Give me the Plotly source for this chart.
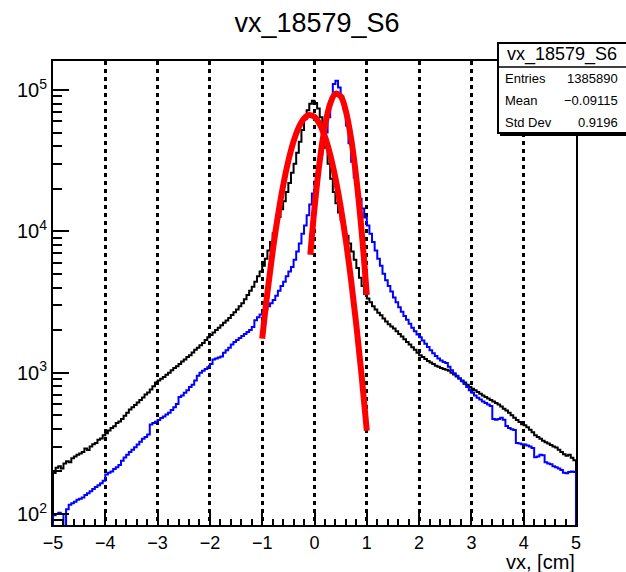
import numpy as np
import plotly.graph_objects as go

# ---------------- data ----------------
hist_title = "vx_18579_S6"
x_min, x_max, n_bins = -5.0, 5.0, 200

black_counts = [
    195, 212, 218, 210, 228, 236, 232, 248, 255, 262,
    268, 275, 290, 284, 300, 312, 318, 335, 342, 360,
    372, 390, 405, 418, 440, 452, 470, 495, 520, 548,
    570, 590, 615, 640, 668, 700, 725, 760, 800, 850,
    880, 905, 930, 965, 1000, 1040, 1080, 1110, 1150, 1200,
    1240, 1290, 1330, 1390, 1450, 1500, 1560, 1620, 1700, 1780,
    1850, 1920, 2000, 2080, 2160, 2250, 2340, 2440, 2560, 2680,
    2800, 2950, 3100, 3300, 3550, 3800, 4050, 4400, 4800, 5200,
    5700, 6400, 7300, 8400, 9700, 11000, 12600, 14300, 16300, 19000,
    22000, 26000, 30000, 36000, 43000, 52000, 62000, 72000, 80000, 84000,
    81000, 74000, 64000, 51000, 39000, 30000, 23500, 19000, 15800, 13600,
    12000, 10600, 9300, 8200, 7200, 6300, 5500, 4700, 4100, 3600,
    3350, 3150, 2950, 2800, 2650, 2550, 2420, 2300, 2200, 2120,
    2050, 1960, 1880, 1800, 1720, 1650, 1580, 1510, 1450, 1380,
    1330, 1290, 1250, 1210, 1180, 1150, 1120, 1100, 1080, 1060,
    1050, 1030, 1000, 970, 940, 910, 880, 850, 820, 790,
    770, 750, 730, 710, 690, 672, 655, 640, 625, 610,
    595, 575, 555, 540, 520, 500, 480, 462, 448, 432,
    425, 410, 395, 378, 360, 350, 340, 330, 322, 315,
    308, 300, 295, 285, 275, 265, 258, 262, 250, 240,
]

blue_counts = [
    98, 100, 102, 100, 78, 108, 116, 119, 122, 126,
    128, 131, 136, 140, 145, 150, 155, 160, 165, 172,
    190, 196, 200, 208, 214, 222, 238, 251, 262, 275,
    285, 297, 310, 325, 340, 350, 365, 430, 440, 450,
    462, 478, 490, 505, 520, 543, 570, 600, 672, 690,
    720, 750, 790, 820, 880, 950, 1000, 1030, 1060, 1090,
    1150, 1240, 1260, 1280, 1300, 1380, 1440, 1500, 1580, 1650,
    1700, 1760, 1820, 1880, 1940, 2000, 2100, 2350, 2470, 2580,
    2690, 2800, 2950, 3100, 3270, 3500, 3800, 4100, 4400, 4800,
    5200, 5600, 6300, 7200, 8200, 9600, 11000, 13000, 15500, 18500,
    22500, 28000, 35000, 42000, 50000, 64000, 85000, 110000, 116000, 104000,
    90000, 74000, 56000, 42000, 31000, 24000, 20000, 17000, 14500, 12500,
    11000, 9600, 8400, 7300, 6400, 5700, 5000, 4500, 4100, 3750,
    3400, 3150, 2900, 2700, 2520, 2370, 2220, 2080, 1960, 1860,
    1780, 1690, 1600, 1520, 1440, 1370, 1310, 1260, 1220, 1190,
    1170, 1100, 1040, 990, 950, 910, 870, 830, 790, 750,
    720, 690, 665, 645, 625, 610, 595, 580, 470, 465,
    470, 480, 465, 420, 405, 398, 392, 318, 315, 312,
    310, 305, 300, 293, 252, 255, 262, 260, 232, 228,
    225, 218, 214, 210, 205, 196, 194, 198, 200, 198,
]

# red fit curves
fit_black_x = [-1.0, -0.9, -0.8, -0.7, -0.6, -0.5, -0.4, -0.3, -0.2, -0.1, 0.0,
               0.1, 0.2, 0.3, 0.4, 0.5, 0.6, 0.7, 0.8, 0.9, 1.0]
fit_black_y = [1742, 3698, 7200, 12850, 21020, 31500, 43300, 54500, 62850, 66500, 64400,
               57200, 46600, 34750, 23750, 14890, 8550, 4500, 2170, 960, 388]
fit_blue_x = [-0.08, 0.0, 0.1, 0.2, 0.3, 0.4, 0.5, 0.6, 0.7, 0.8, 0.9, 1.0]
fit_blue_y = [6830, 14600, 31500, 55500, 79900, 94000, 90200, 70800, 45300, 23700, 10140, 3540]

stats_labels = ["Entries", "Mean", "Std Dev"]
stats_values = ["1385890", "\u22120.09115", "0.9196"]

x_tick_vals = [-5, -4, -3, -2, -1, 0, 1, 2, 3, 4, 5]
y_tick_vals = [100, 1000, 10000, 100000]
y_tick_text = ["10<sup>2</sup>", "10<sup>3</sup>", "10<sup>4</sup>", "10<sup>5</sup>"]
x_axis_title = "vx, [cm]"

# ---------------- build figure ----------------
edges = np.linspace(x_min, x_max, n_bins + 1)


def step_xy(counts):
    xs = [x_min] + list(edges[:-1]) + [x_max, x_max]
    ys = [1.0] + list(counts) + [counts[-1], 1.0]
    return xs, ys


FONT = "Liberation Sans, Arial, Helvetica, sans-serif"
fig = go.Figure()

bx, by = step_xy(black_counts)
fig.add_trace(go.Scatter(x=bx, y=by, mode="lines", line=dict(color="black", width=2, shape="hv"),
                         hoverinfo="skip"))
ux, uy = step_xy(blue_counts)
fig.add_trace(go.Scatter(x=ux, y=uy, mode="lines", line=dict(color="#0000ff", width=2, shape="hv"),
                         hoverinfo="skip"))
fig.add_trace(go.Scatter(x=fit_black_x, y=fit_black_y, mode="lines",
                         line=dict(color="#ff0000", width=6, shape="spline"), hoverinfo="skip"))
fig.add_trace(go.Scatter(x=fit_blue_x, y=fit_blue_y, mode="lines",
                         line=dict(color="#ff0000", width=6, shape="spline"), hoverinfo="skip"))

W, H = 626, 572
L, R, T, B = 53, 576, 61, 525

fig.update_layout(
    width=W, height=H,
    margin=dict(l=L, r=W - R, t=T, b=H - B),
    paper_bgcolor="white", plot_bgcolor="white",
    showlegend=False,
    font=dict(family=FONT, color="black"),
    title=dict(text=hist_title, x=317 / W, xref="container", xanchor="center",
               y=1 - 23 / H, yref="container", yanchor="middle",
               font=dict(family=FONT, size=27, color="black")),
    xaxis=dict(
        range=[x_min, x_max], tickmode="array", tickvals=x_tick_vals,
        ticks="inside", ticklen=12, tickwidth=1.5, tickcolor="black",
        minor=dict(dtick=0.2, ticks="inside", ticklen=6, tickwidth=1.5, tickcolor="black", showgrid=False),
        showgrid=True, gridcolor="black", gridwidth=2.5, griddash="4px,4px",
        zeroline=False, showline=True, linecolor="black", linewidth=2, mirror=True,
        tickfont=dict(family=FONT, size=18, color="black"),
    ),
    yaxis=dict(
        type="log", range=[1.922, 5.205], tickmode="array", tickvals=y_tick_vals, ticktext=y_tick_text,
        ticks="inside", ticklen=16, tickwidth=1.5, tickcolor="black",
        minor=dict(dtick="D1", ticks="inside", ticklen=9, tickwidth=1.5,
                   tickcolor="black", showgrid=False),
        showgrid=False, zeroline=False, showline=True, linecolor="black", linewidth=2, mirror=True,
        tickfont=dict(family=FONT, size=20, color="black"),
    ),
)


def px_x(p):
    return (p - L) / (R - L)


def px_y(p):
    return (B - p) / (B - T)


# stats box
bx0, bx1, by0, by1 = 498, 640, 43, 133
fig.add_shape(type="rect", xref="paper", yref="paper", x0=px_x(bx0), x1=px_x(bx1),
              y0=px_y(by1), y1=px_y(by0), line=dict(color="black", width=2), fillcolor="white",
              layer="above")
fig.add_shape(type="line", xref="paper", yref="paper", x0=px_x(bx0), x1=px_x(bx1),
              y0=px_y(67), y1=px_y(67), line=dict(color="black", width=1.5), layer="above")
fig.add_shape(type="line", xref="paper", yref="paper", x0=px_x(bx0 + 2), x1=px_x(bx1),
              y0=px_y(by1 + 2), y1=px_y(by1 + 2), line=dict(color="black", width=2), layer="above")

fig.add_annotation(xref="paper", yref="paper", x=px_x(562), y=px_y(55), text=hist_title,
                   showarrow=False, xanchor="center", yanchor="middle",
                   font=dict(family=FONT, size=18, color="black"))
row_y = [78, 100, 122]
for lab, val, ry in zip(stats_labels, stats_values, row_y):
    fig.add_annotation(xref="paper", yref="paper", x=px_x(503), y=px_y(ry), text=lab,
                       showarrow=False, xanchor="left", yanchor="middle",
                       font=dict(family=FONT, size=13, color="black"))
    fig.add_annotation(xref="paper", yref="paper", x=px_x(620), y=px_y(ry), text=val,
                       showarrow=False, xanchor="right", yanchor="middle",
                       font=dict(family=FONT, size=13, color="black"))

# axis title (right aligned like ROOT)
fig.add_annotation(xref="paper", yref="paper", x=px_x(577), y=px_y(562), text=x_axis_title,
                   showarrow=False, xanchor="right", yanchor="middle",
                   font=dict(family=FONT, size=20, color="black"))

fig.write_html("out.html")
